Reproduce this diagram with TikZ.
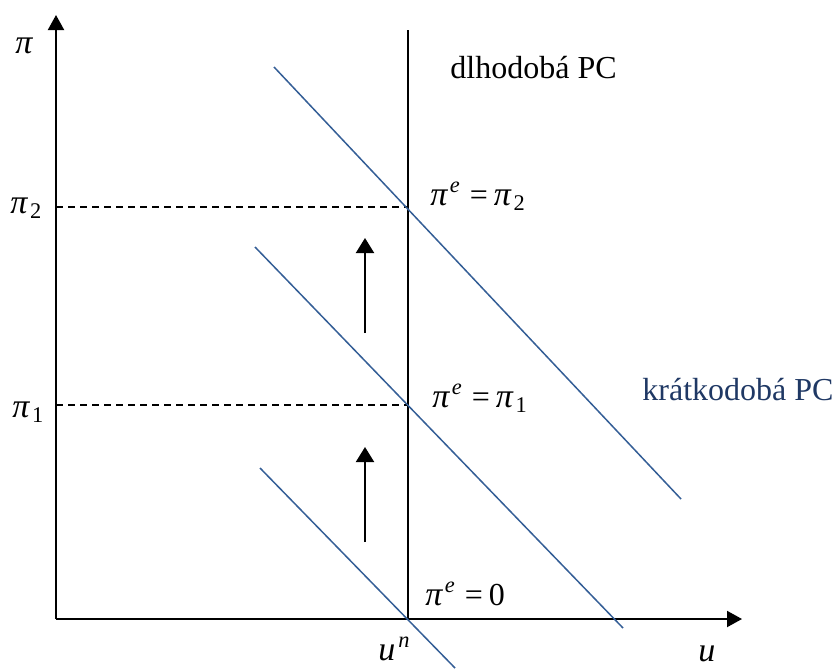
\documentclass[tikz,border=0pt]{standalone}
\usepackage{fontspec}
\setmainfont{Liberation Serif}
\usetikzlibrary{arrows.meta}
\definecolor{pcblue}{RGB}{52,94,150}
\definecolor{pctext}{RGB}{31,56,100}
\newcommand{\pii}{{\fontsize{17pt}{19pt}\selectfont\textit{π}}}
\newcommand{\pie}{\pii\textsuperscript{\kern0.8pt\textit{e}}\hspace{4.5pt}=\hspace{3pt}}
\begin{document}
\begin{tikzpicture}[x=0.5pt, y=-0.5pt,
  every node/.style={font=\fontsize{16pt}{19pt}\selectfont, inner sep=0pt, anchor=base west},
  axis/.style={line width=1pt, -{Triangle[length=7.5pt,width=8pt]}},
  uparrow/.style={line width=1pt, -{Triangle[length=7.5pt,width=9pt]}},
  pc/.style={line width=0.75pt, pcblue},
  guide/.style={line width=0.65pt, dash pattern=on 3.5pt off 2.5pt}]
\useasboundingbox (0,0) rectangle (835,669);
% axes
\coordinate (O) at (56,619);
\coordinate (ytip) at (56,15);
\coordinate (xtip) at (742,619);
\draw[axis] (O) -- (ytip);
\draw[axis] (O) -- (xtip);
% long-run PC
\coordinate (lrtop) at (408,30);
\coordinate (un) at (408,619);
\draw[line width=0.75pt] (un) -- (lrtop);
% expected inflation levels
\coordinate (p1) at (56,405);
\coordinate (p2) at (56,207);
\draw[guide] (p2) -- (408,207);
\draw[guide] (p1) -- (408,405);
% short-run PCs
\draw[pc] (274,67) -- (681,499);
\draw[pc] (255,247) -- (623,628);
\draw[pc] (260,468) -- (455,668);
% shifts
\draw[uparrow] (365,333) -- (365,238);
\draw[uparrow] (365,542) -- (365,447);
% labels
\node (lpi) at (15,53) {\pii};
\node (lp2) at (10,213) {\pii\textsubscript{\kern1pt 2}};
\node (lp1) at (12,417) {\pii\textsubscript{\kern1pt 1}};
\node (lun) at (378,660) {{\fontsize{17pt}{19pt}\selectfont\textit{u}}\textsuperscript{\kern1.5pt\textit{n}}};
\node (lu) at (698,661) {{\fontsize{17pt}{19pt}\selectfont\textit{u}}};
\node (lrpc) at (450,78) {dlhodobá PC};
\node[text=pctext] (srpc) at (642,400) {krátkodobá PC};
\node (e2) at (430,205) {\pie\pii\textsubscript{\kern1pt 2}};
\node (e1) at (432,407) {\pie\pii\textsubscript{\kern1pt 1}};
\node (e0) at (425,605) {\pie 0};
\end{tikzpicture}
\end{document}
